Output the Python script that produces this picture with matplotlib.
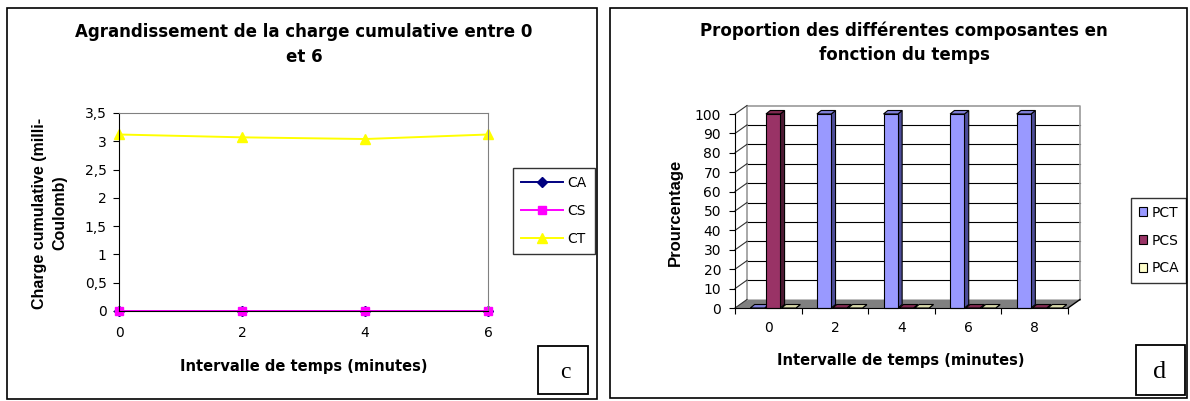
import matplotlib
matplotlib.use("Agg")
import matplotlib.pyplot as plt
from matplotlib.patches import Rectangle, Polygon, Patch

# ---- data: chart c (cumulative charge, zoom 0-6 min)
times_c = [0, 2, 4, 6]
CA = [0, 0, 0, 0]
CS = [0, 0, 0, 0]
CT = [3.12, 3.07, 3.04, 3.12]
yticks_c = [0, 0.5, 1, 1.5, 2, 2.5, 3, 3.5]
ylabels_c = ["0", "0,5", "1", "1,5", "2", "2,5", "3", "3,5"]

# ---- data: chart d (proportion of each component)
times_d = ["0", "2", "4", "6", "8"]
PCT = [0, 100, 100, 100, 100]
PCS = [100, 0, 0, 0, 0]
PCA = [0, 0, 0, 0, 0]
yticks_d = list(range(0, 101, 10))

W, H = 1190, 401
plt.rcParams["font.family"] = ["DejaVu Sans"]


def box(x0, y0, x1, y1):
    # pixel box (top-left origin) -> figure fraction rect
    return [x0 / W, 1 - y1 / H, (x1 - x0) / W, (y1 - y0) / H]


def fpt(x, y):
    return (x / W, 1 - y / H)


def frame(fig, x0, y0, x1, y1, lw=1.2):
    fig.add_artist(Rectangle(fpt(x0, y1), (x1 - x0) / W, (y1 - y0) / H,
                             transform=fig.transFigure, fill=False,
                             ec="black", lw=lw))


fig = plt.figure(figsize=(W / 100, H / 100), dpi=100)

# ================= chart c =================
frame(fig, 7, 8, 597, 399)
ax1 = fig.add_axes(box(119, 113, 488, 311))
ax1.plot(times_c, CA, color="#000080", marker="D", ms=5, lw=1.4, label="CA", clip_on=False)
ax1.plot(times_c, CS, color="#FF00FF", marker="s", ms=5.5, lw=1.4, label="CS", clip_on=False)
ax1.plot(times_c, CT, color="#FFFF00", marker="^", ms=7.5, lw=1.4, label="CT", clip_on=False)
ax1.set_xlim(0, 6)
ax1.set_ylim(0, 3.5)
ax1.set_xticks(times_c)
ax1.set_yticks(yticks_c)
ax1.set_yticklabels(ylabels_c)
for s in ["top", "right"]:
    ax1.spines[s].set_color("#808080")
for s in ["left", "bottom"]:
    ax1.spines[s].set_color("black")
ax1.tick_params(axis="y", direction="out", length=4, pad=5, labelsize=10)
ax1.tick_params(axis="x", length=0, pad=11, labelsize=10)

leg1 = ax1.legend(loc="upper left", bbox_to_anchor=fpt(513, 168),
                  bbox_transform=fig.transFigure, fancybox=False,
                  edgecolor="black", fontsize=10, handlelength=3.0,
                  handletextpad=0.3, labelspacing=1.0, borderpad=0.6,
                  borderaxespad=0)
leg1.get_frame().set_linewidth(1.0)

fig.text(304 / W, 1 - 44.5 / H, "Agrandissement de la charge cumulative entre 0\net 6",
         ha="center", va="center", fontsize=12, fontweight="bold", linespacing=1.5)
fig.text(50 / W, 1 - 213 / H, "Charge cumulative (milli-\nCoulomb)", rotation=90,
         ha="center", va="center", fontsize=11.5, fontweight="bold",
         family="Liberation Sans", linespacing=1.45)
fig.text(304 / W, 1 - 367 / H, "Intervalle de temps (minutes)",
         ha="center", va="center", fontsize=10.5, fontweight="bold")
frame(fig, 538, 346, 588, 394, lw=1.3)
fig.text(565 / W, 1 - 372 / H, "c", ha="center", va="center", fontsize=17,
         family="Liberation Serif")

# ================= chart d (pseudo 3-D columns) =================
frame(fig, 610, 8, 1187, 398)
ax_px = (735, 114, 1068, 308)
ax2 = fig.add_axes(box(*ax_px))
n = len(times_d)
ax2.set_xlim(0, n)
ax2.set_ylim(0, 100)
ax_w = ax_px[2] - ax_px[0]
ax_h = ax_px[3] - ax_px[1]


def ux(px):
    return px * n / ax_w


def uy(px):
    return px * 100 / ax_h


DX, DY = ux(12), uy(8.5)     # wall depth
BX, BY = ux(4.3), uy(3.5)    # column depth

# floor
ax2.add_patch(Polygon([(0, 0), (n, 0), (n + DX, DY), (DX, DY)], closed=True,
                      fc="#808080", ec="none", zorder=1, clip_on=False))
# back wall grid + frame
for v in yticks_d[1:-1]:
    ax2.plot([DX, n + DX], [v + DY, v + DY], color="black", lw=0.8, zorder=1, clip_on=False)
ax2.plot([DX, DX, n + DX, n + DX], [DY, 100 + DY, 100 + DY, DY],
         color="#9a9a9a", lw=1.2, zorder=1, clip_on=False)
# side wall diagonals
for v in yticks_d:
    ax2.plot([0, DX], [v, v + DY], color="#333333", lw=0.8, zorder=1, clip_on=False)
ax2.plot([n, n + DX], [0, DY], color="black", lw=1, zorder=1, clip_on=False)

series = [("PCT", PCT, "#9999FF", "#8080D8", "#4D4D99"),
          ("PCS", PCS, "#993366", "#80294F", "#4D1A33"),
          ("PCA", PCA, "#FFFFCC", "#D8D8AA", "#80806A")]
bw = 0.215
for j, (name, vals, front, top, side) in enumerate(series):
    for i, h in enumerate(vals):
        x0 = i + 0.23 + 0.235 * j
        x1 = x0 + bw
        kw = dict(closed=True, ec="black", lw=0.8, zorder=3, clip_on=False)
        ax2.add_patch(Polygon([(x1, 0), (x1 + BX, BY), (x1 + BX, h + BY), (x1, h)], fc=side, **kw))
        ax2.add_patch(Polygon([(x0, h), (x1, h), (x1 + BX, h + BY), (x0 + BX, h + BY)], fc=top, **kw))
        if h > 0:
            ax2.add_patch(Polygon([(x0, 0), (x1, 0), (x1, h), (x0, h)], fc=front, **kw))

for s in ["top", "right"]:
    ax2.spines[s].set_visible(False)
ax2.spines["left"].set_color("black")
ax2.spines["bottom"].set_color("black")
ax2.spines["left"].set_zorder(4)
ax2.spines["bottom"].set_zorder(4)
ax2.set_yticks(yticks_d)
ax2.tick_params(axis="y", direction="out", length=4, pad=6, labelsize=10)
ax2.set_xticks(range(n + 1))
ax2.set_xticklabels([])
ax2.set_xticks([i + 0.5 for i in range(n)], minor=True)
ax2.set_xticklabels(times_d, minor=True)
ax2.tick_params(axis="x", which="major", direction="out", length=4)
ax2.tick_params(axis="x", which="minor", length=0, pad=9, labelsize=10)

handles = [Patch(fc=c[2], ec="black", lw=0.8) for c in series]
leg2 = ax2.legend(handles, [c[0] for c in series], loc="upper left",
                  bbox_to_anchor=fpt(1131, 198), bbox_transform=fig.transFigure,
                  fancybox=False, edgecolor="black", fontsize=10,
                  handlelength=0.6, handleheight=0.6, handletextpad=0.3,
                  labelspacing=1.0, borderpad=0.55, borderaxespad=0)
leg2.get_frame().set_linewidth(1.0)

fig.text(904 / W, 1 - 43 / H, "Proportion des différentes composantes en\nfonction du temps",
         ha="center", va="center", fontsize=12, fontweight="bold", linespacing=1.45)
fig.text(675 / W, 1 - 212 / H, "Prourcentage", rotation=90, ha="center", va="center",
         fontsize=12, fontweight="bold", family="Liberation Sans")
fig.text(901 / W, 1 - 360 / H, "Intervalle de temps (minutes)",
         ha="center", va="center", fontsize=10.5, fontweight="bold")
frame(fig, 1136, 345, 1185, 395, lw=1.3)
fig.text(1160 / W, 1 - 372 / H, "d", ha="center", va="center", fontsize=19,
         family="Liberation Serif")

fig.savefig("out.png", dpi=100)
